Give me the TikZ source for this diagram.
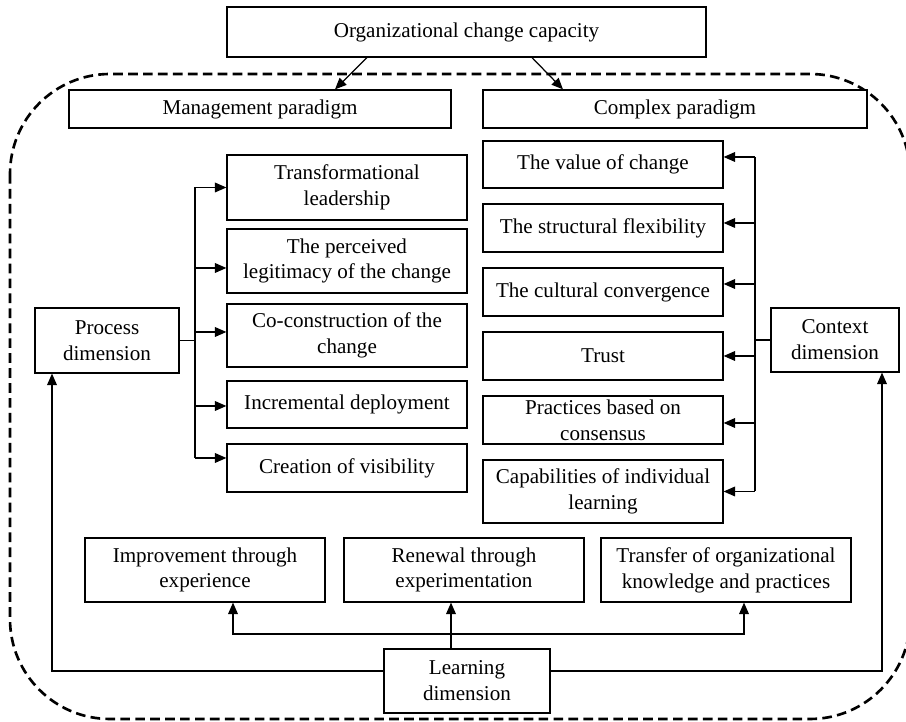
\documentclass[tikz,border=0pt]{standalone}
\usepackage{fontspec}
\setmainfont{Liberation Serif}
\usetikzlibrary{arrows.meta}

\begin{document}
\begin{tikzpicture}
        \tikzstyle{box}=[draw, line width=0.7pt, fill=white, align=center, inner sep=2pt, minimum width=4.8cm, minimum height=0.96cm, font=\fontsize{12}{14.7}\selectfont]
        \tikzstyle{link}=[line width=0.7pt]
        \tikzstyle{arr}=[line width=0.7pt, -{Triangle[length=6.5pt,width=5.5pt]}]
        \tikzstyle{arrs}=[line width=0.7pt, {Triangle[length=6.5pt,width=5.5pt]}-{Triangle[length=6.5pt,width=5.5pt]}]

        \useasboundingbox (0,0) rectangle (18.12,14.44);

        % Draw dashed frame
        \draw[line width=1.5pt, dash pattern=on 5.5pt off 3pt, rounded corners=2cm] (0.20,12.96) rectangle (18.20,0.06);

        % Top and paradigms
        \node[box, minimum width=9.58cm, minimum height=1.0cm] (org) at (9.33,13.80) {Organizational change capacity};
        \node[box, minimum width=7.64cm, minimum height=0.76cm] (mgmt) at (5.20,12.26) {Management paradigm};
        \node[box, minimum width=7.68cm, minimum height=0.76cm] (cplx) at (13.50,12.26) {Complex paradigm};
        \draw[arr] ([xshift=-1.99cm]org.south) -- ([xshift=1.50cm]mgmt.north);
        \draw[arr] ([xshift=1.31cm]org.south) -- ([xshift=-2.24cm]cplx.north);

        % Process dimension boxes
        \node[box, minimum height=1.30cm] (tl) at (6.94,10.69) {Transformational\\leadership};
        \node[box, minimum height=1.28cm] (leg) at (6.94,9.22) {The perceived\\legitimacy of the change};
        \node[box, minimum height=1.26cm] (cocon) at (6.94,7.73) {Co-construction of the\\change};
        \node[box, minimum height=0.94cm] (incr) at (6.94,6.35) {Incremental deployment};
        \node[box] (vis) at (6.94,5.08) {Creation of visibility};

        % Context dimension boxes
        \node[box, minimum height=0.94cm] (val) at (12.06,11.15) {The value of change};
        \node[box] (flex) at (12.06,9.88) {The structural flexibility};
        \node[box] (cult) at (12.06,8.60) {The cultural convergence};
        \node[box] (trust) at (12.06,7.32) {Trust};
        \node[box] (prac) at (12.06,6.04) {Practices based on\\consensus};
        \node[box, minimum height=1.26cm] (capab) at (12.06,4.61) {Capabilities of individual\\learning};

        % Dimensions
        \node[box, minimum width=2.88cm, minimum height=1.30cm] (proc) at (2.14,7.63) {Process\\dimension};
        \node[box, minimum width=2.56cm, minimum height=1.28cm] (ctx) at (16.70,7.64) {Context\\dimension};

        % Learning boxes
        \node[box, minimum height=1.28cm] (impr) at (4.10,3.04) {Improvement through\\experience};
        \node[box, minimum height=1.28cm] (renew) at (9.28,3.04) {Renewal through\\experimentation};
        \node[box, minimum width=5.00cm, minimum height=1.28cm] (transf) at (14.52,3.04) {Transfer of organizational\\knowledge and practices};
        \node[box, minimum width=3.32cm, minimum height=1.28cm] (learn) at (9.34,0.82) {Learning\\dimension};

        % Process branches
        \coordinate (ptr) at (3.90,7.63);
        \draw[link] (proc.east) -- (ptr);
        \foreach \n/\s in {tl/0, leg/-0.14, cocon/0.07, incr/-0.03, vis/0.20} {
            \coordinate (p\n) at ([yshift=\s cm]\n.west);
            \draw[arr] (ptr |- p\n) -- (p\n);
        }
        \draw[link] (ptr |- ptl) -- (ptr |- pvis);

        % Context branches
        \coordinate (ctr) at (15.10,7.64);
        \draw[link] (ctx.west) -- (ctr);
        \foreach \n/\s in {val/0.15, flex/0.10, cult/0.16, trust/0, prac/-0.06, capab/0} {
            \coordinate (c\n) at ([yshift=\s cm]\n.east);
            \draw[arr] (ctr |- c\n) -- (c\n);
        }
        \draw[link] (ctr |- cval) -- (ctr |- ccapab);

        % Learning branches
        \coordinate (jn) at (9.02,1.76);
        \draw[arr] (learn.north -| jn) -- (renew.south -| jn);
        \draw[arrs] ([xshift=0.56cm]impr.south) |- (jn) -| ([xshift=0.36cm]transf.south);
        \draw[arr] ([yshift=0.2cm]learn.west) -| ([xshift=-1.10cm]proc.south);
        \draw[arr] ([yshift=0.2cm]learn.east) -| ([xshift=0.94cm]ctx.south);
    \end{tikzpicture}
\end{document}
